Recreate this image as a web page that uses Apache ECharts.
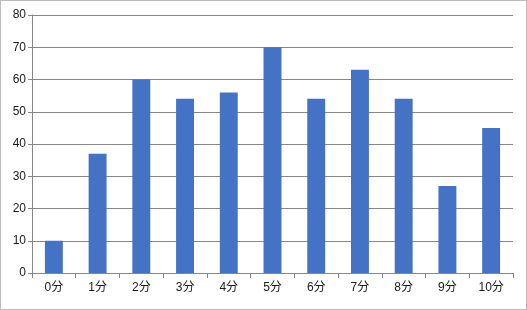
<!DOCTYPE html>
<html><head><meta charset="utf-8">
<script src="https://cdn.jsdelivr.net/npm/echarts@6/dist/echarts.min.js"></script>
<style>html,body{margin:0;padding:0;background:#fff}#c{width:527px;height:310px;box-sizing:border-box;border:1px solid #bcbcbc}</style>
</head><body><div id="c"></div>
<script>
const categories = ['0分','1分','2分','3分','4分','5分','6分','7分','8分','9分','10分'];
const values = [10, 37, 60, 54, 56, 70, 54, 63, 54, 27, 45];
const yMin = 0, yMax = 80, yStep = 10;
const chart = echarts.init(document.getElementById('c'));
const font = '"Liberation Sans", "Noto Sans CJK JP", sans-serif';
chart.setOption({
  animation: false,
  grid: {left: 31, right: 13, top: 14, bottom: 36},
  xAxis: {
    type: 'category', data: categories,
    axisLine: {lineStyle: {color: '#878787', width: 1}},
    axisTick: {show: true, length: 5, alignWithLabel: false, lineStyle: {color: '#878787'}},
    axisLabel: {color: '#1a1a1a', fontSize: 12, fontFamily: font, margin: 9}
  },
  yAxis: {
    type: 'value', min: yMin, max: yMax, interval: yStep,
    axisLine: {show: true, lineStyle: {color: '#878787'}},
    axisTick: {show: true, length: 4, lineStyle: {color: '#878787'}},
    splitLine: {lineStyle: {color: '#878787', width: 1}},
    axisLabel: {color: '#1a1a1a', fontSize: 12, fontFamily: font, margin: 6}
  },
  series: [{
    type: 'bar', data: values, barWidth: '41%',
    itemStyle: {color: '#4472C4'}
  }]
});
</script></body></html>
